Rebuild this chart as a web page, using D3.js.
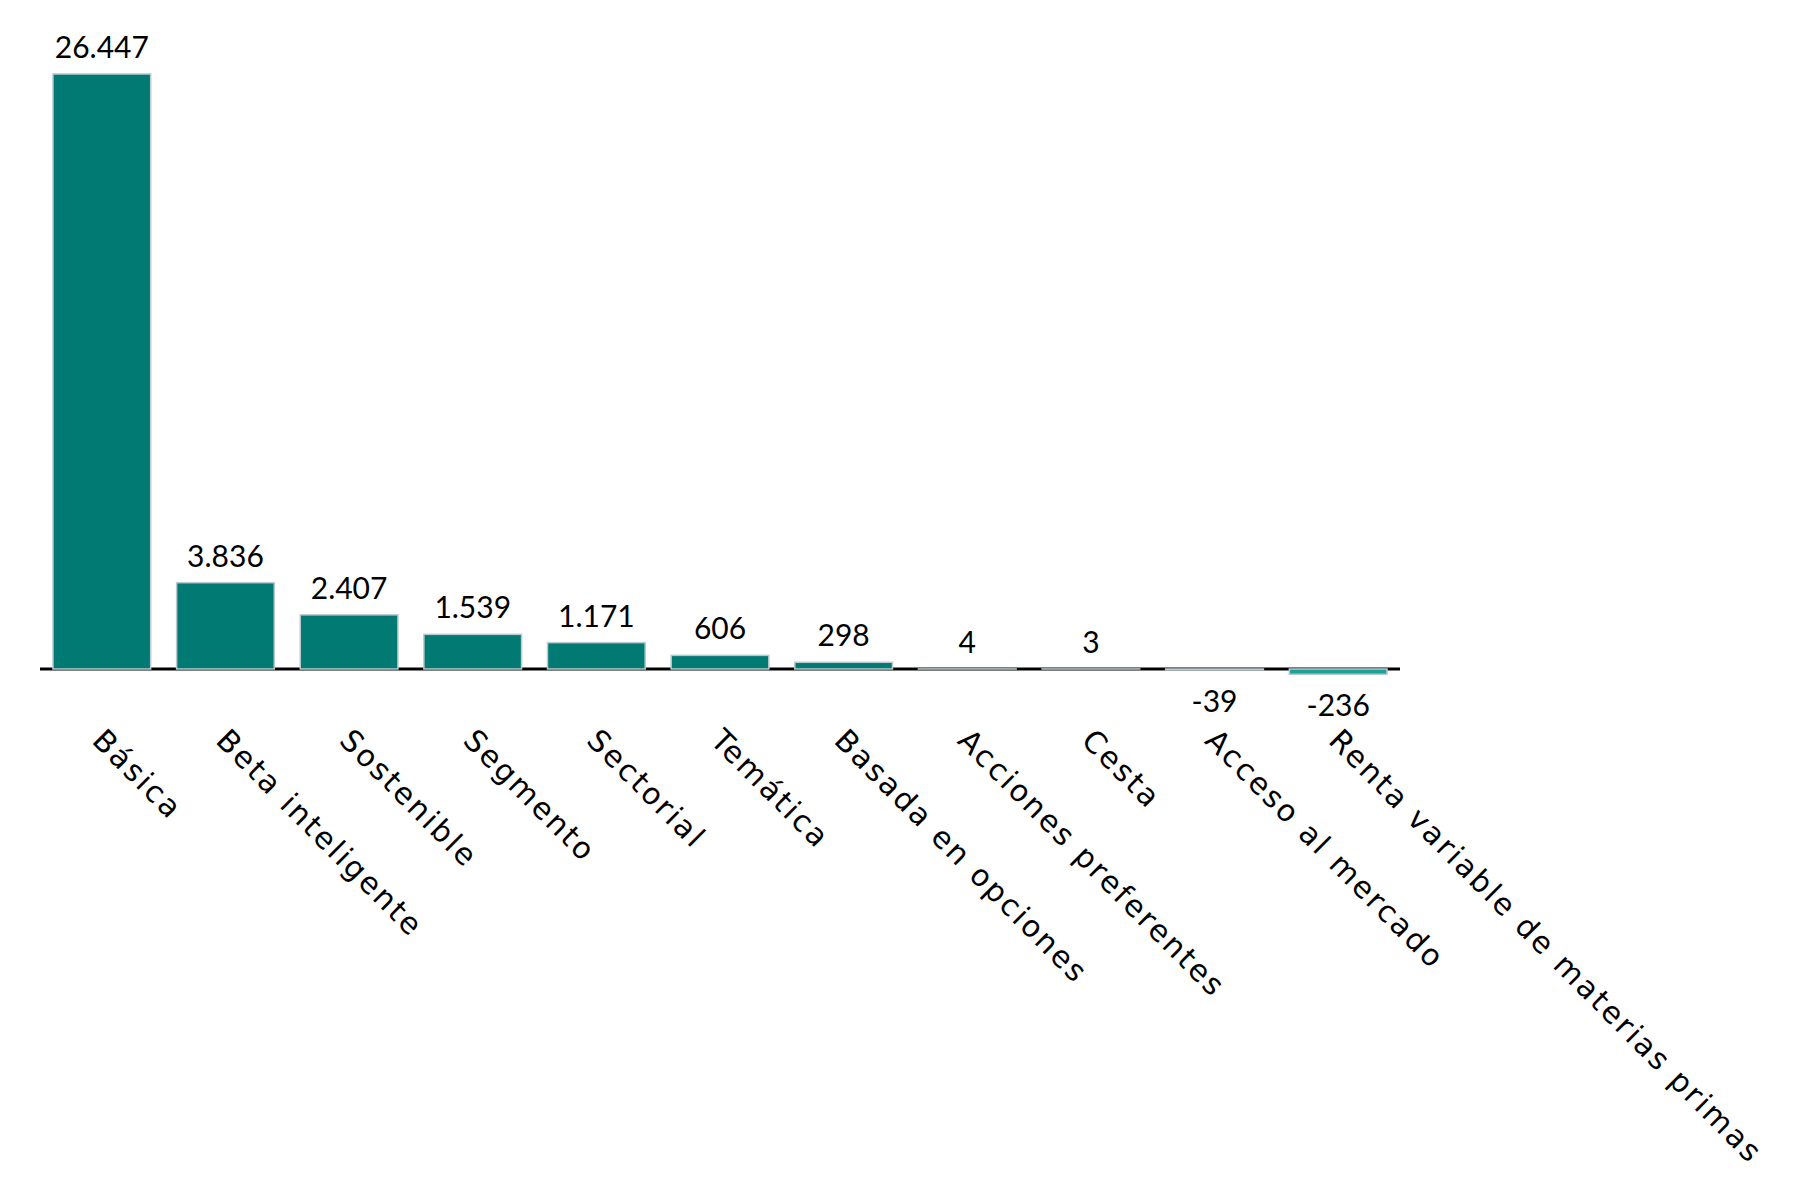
<!DOCTYPE html>
<html>
<head>
<meta charset="utf-8">
<script src="https://cdn.jsdelivr.net/npm/d3@7"></script>
<style>
  body { margin: 0; background: #fff; }
  text { fill: #000; }
  .valueLabel { font-family: Lato, "Noto Sans", sans-serif; }
  .catLabel { font-family: "DejaVu Sans", sans-serif; letter-spacing: 2.4px; }
</style>
</head>
<body>
<script>
let width = 1800;
let height = 1200;

// data
let categories = ["Básica", "Beta inteligente", "Sostenible", "Segmento", "Sectorial", "Temática",
    "Basada en opciones", "Acciones preferentes", "Cesta", "Acceso al mercado",
    "Renta variable de materias primas"];
let values = [26447, 3836, 2407, 1539, 1171, 606, 298, 4, 3, -39, -236];

let svg = d3.select("body")
    .append("svg")
    .attr("width", width)
    .attr("height", height);

let x = d3.scaleBand()
    .domain(categories)
    .range([40, 1400])
    .paddingInner(0.21)
    .paddingOuter(0.105);

let y = d3.scaleLinear()
    .domain([0, d3.max(values)])
    .range([669, 74]);

let locale = d3.formatLocale({ decimal: ",", thousands: ".", grouping: [3], currency: ["", ""], minus: "-" });
let fmt = locale.format(",d");

let data = categories.map(function(c, i) { return { cat: c, val: values[i] }; });

// zero line
svg.append("line")
    .attr("x1", 40)
    .attr("x2", 1400)
    .attr("y1", y(0))
    .attr("y2", y(0))
    .attr("stroke", "#000")
    .attr("stroke-width", 3);

svg.append("g")
    .selectAll("rect")
    .data(data)
    .enter().append("rect")
        .attr("x", function(d) { return x(d.cat); })
        .attr("y", function(d) { return Math.min(y(d.val), y(0)); })
        .attr("width", x.bandwidth())
        .attr("height", function(d) { return Math.abs(y(d.val) - y(0)); })
        .attr("fill", function(d, i) { return i == categories.length - 1 ? "#1aa39a" : "#007a72"; })
        .attr("stroke", "#b9c9cd")
        .attr("stroke-width", 1.5);

// value labels
svg.append("g")
    .selectAll("text")
    .data(data)
    .enter().append("text")
        .attr("class", "valueLabel")
        .attr("x", function(d) { return x(d.cat) + x.bandwidth() / 2; })
        .attr("y", function(d) { return d.val >= 0 ? y(d.val) - 16 : y(d.val) + 42; })
        .attr("text-anchor", "middle")
        .attr("font-size", 30)
        .text(function(d) { return fmt(d.val); });

// category labels, rotated
svg.append("g")
    .selectAll("text")
    .data(data)
    .enter().append("text")
        .attr("class", "catLabel")
        .attr("transform", function(d) {
            let cx = x(d.cat) + x.bandwidth() / 2 - 11;
            return "translate(" + cx + "," + (y(0) + 73) + ") rotate(45)";
        })
        .attr("text-anchor", "start")
        .attr("font-size", 30)
        .text(function(d) { return d.cat; });
</script>
</body>
</html>
